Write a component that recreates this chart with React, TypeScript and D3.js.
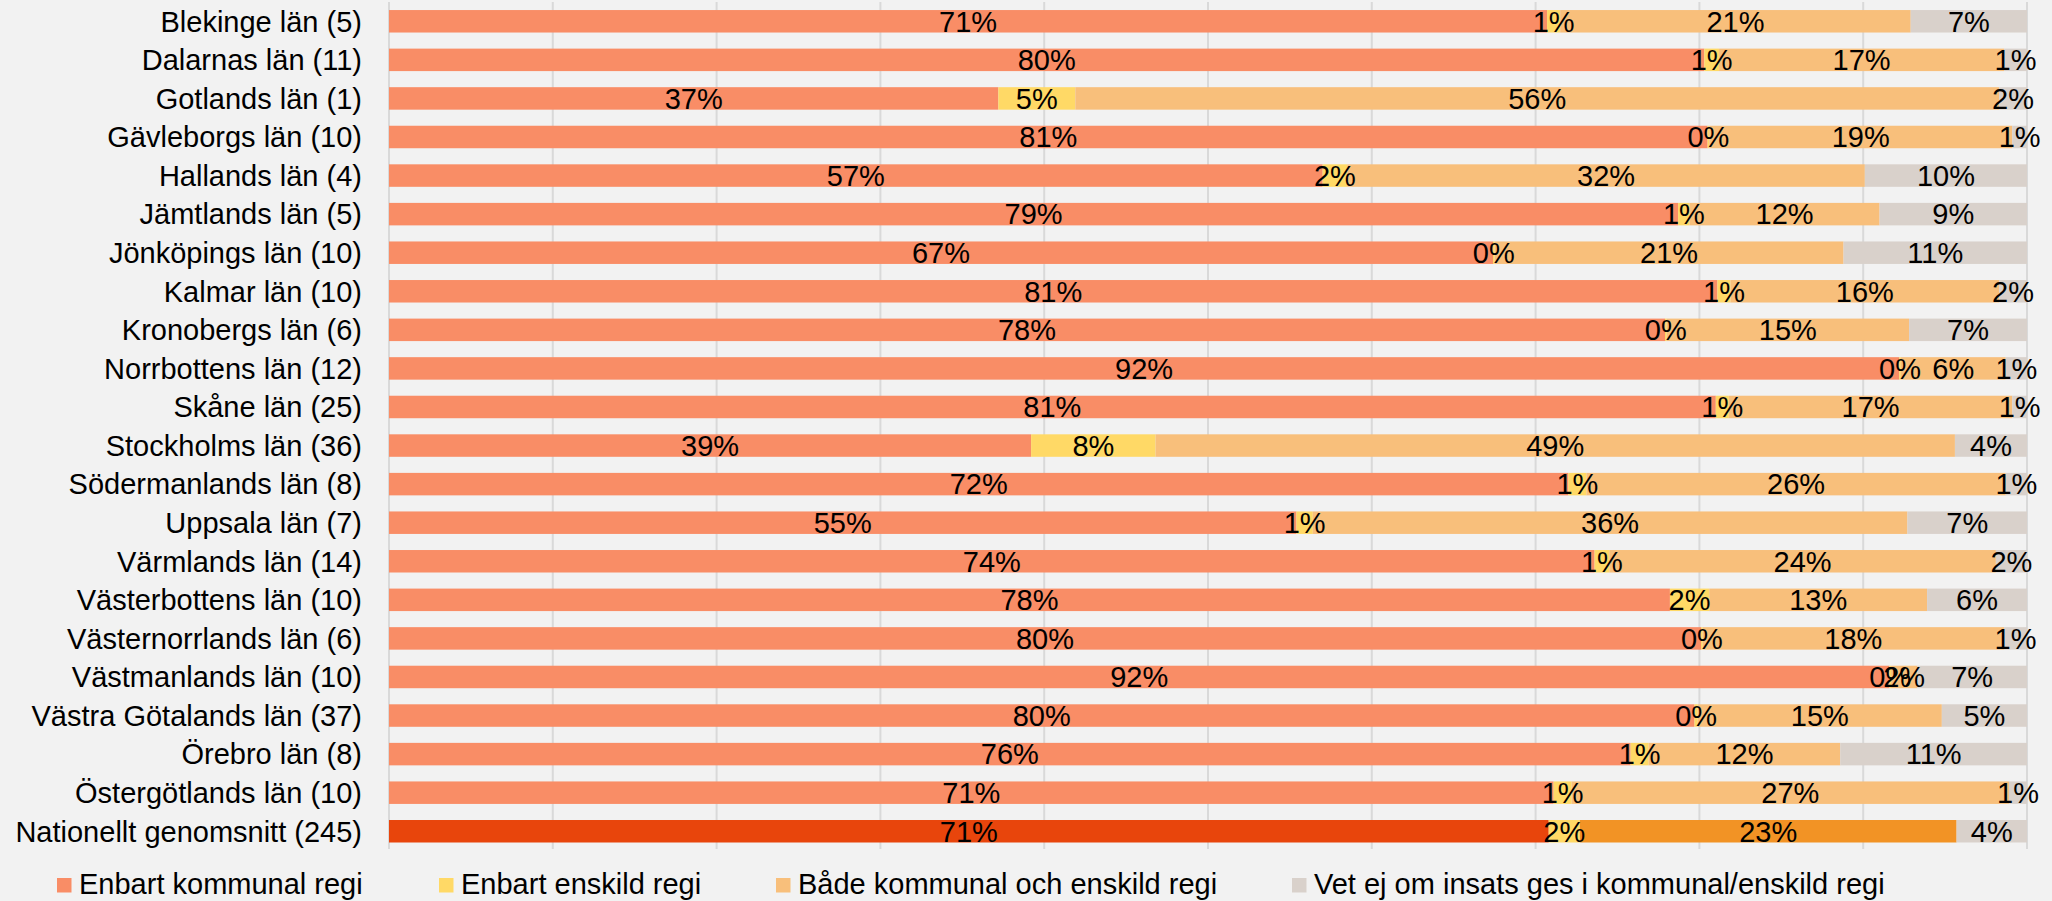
import React from "react";
import * as d3 from "d3";

const categories = [
  "Blekinge län (5)", "Dalarnas län (11)", "Gotlands län (1)", "Gävleborgs län (10)",
  "Hallands län (4)", "Jämtlands län (5)", "Jönköpings län (10)", "Kalmar län (10)",
  "Kronobergs län (6)", "Norrbottens län (12)", "Skåne län (25)", "Stockholms län (36)",
  "Södermanlands län (8)", "Uppsala län (7)", "Värmlands län (14)", "Västerbottens län (10)",
  "Västernorrlands län (6)", "Västmanlands län (10)", "Västra Götalands län (37)",
  "Örebro län (8)", "Östergötlands län (10)", "Nationellt genomsnitt (245)",
];

const enbartKommunal = [70.7, 80.3, 37.2, 80.5, 57.0, 78.7, 67.4, 81.1, 77.9, 92.2, 81.0, 39.2, 72.0, 55.4, 73.6, 78.2, 80.1, 91.6, 79.7, 75.8, 71.1, 70.8];
const enbartEnskild = [0.8, 0.9, 4.7, 0.1, 1.5, 0.7, 0.1, 0.8, 0.1, 0.1, 0.8, 7.6, 1.1, 1.0, 0.9, 2.4, 0.1, 0.1, 0.2, 1.1, 1.1, 1.9];
const badaRegi = [21.4, 17.4, 56.4, 18.5, 31.6, 11.6, 21.3, 16.4, 14.8, 6.4, 17.3, 48.8, 25.6, 36.3, 23.6, 13.3, 18.4, 1.6, 14.9, 11.7, 26.7, 23.0];
const vetEj = [7.1, 1.4, 1.7, 0.9, 9.9, 9.0, 11.2, 1.7, 7.2, 1.3, 0.9, 4.4, 1.3, 7.3, 1.9, 6.1, 1.4, 6.7, 5.2, 11.4, 1.1, 4.3];

const seriesKeys = ["kommunal", "enskild", "bada", "vetej"];
const seriesNames = [
  "Enbart kommunal regi",
  "Enbart enskild regi",
  "Både kommunal och enskild regi",
  "Vet ej om insats ges i kommunal/enskild regi",
];
const colors = ["#F98D66", "#FFD966", "#F8BF7B", "#D9D1CB"];
const nationalColors = ["#E8450C", "#FFD966", "#F29325", "#D9D1CB"];
const xTicks = d3.range(0, 1.0001, 0.1);

const W = 2052;
const H = 901;
const FONT = "'Liberation Sans', Arial, sans-serif";
const FS = 29;

export default function App() {
  const rows = categories.map((c, i) => ({
    cat: c,
    kommunal: enbartKommunal[i],
    enskild: enbartEnskild[i],
    bada: badaRegi[i],
    vetej: vetEj[i],
  }));
  const stacked = d3.stack<any>().keys(seriesKeys).offset(d3.stackOffsetExpand)(rows);

  const x = d3.scaleLinear().domain([0, 1]).range([389, 2027]);
  const y = d3
    .scaleBand<string>()
    .domain(categories)
    .range([2, 2 + 22 * 38.57])
    .paddingInner(0.417)
    .paddingOuter(0.2085);
  const bw = y.bandwidth();
  const last = categories.length - 1;

  const legendX = [57, 439, 776, 1292];

  return (
    <svg
      width={W}
      height={H}
      style={{ position: "absolute", left: 0, top: 0, display: "block" }}
      fontFamily={FONT}
    >
      <rect x={0} y={0} width={W} height={H} fill="#F2F2F2" />
      {xTicks.map((t, i) => (
        <line
          key={i}
          x1={x(t)}
          x2={x(t)}
          y1={2}
          y2={849}
          stroke="#D9D9D9"
          strokeWidth={2}
        />
      ))}
      {stacked.map((s, si) =>
        s.map((d, i) => (
          <rect
            key={si + "-" + i}
            x={x(d[0])}
            y={y(categories[i])}
            width={Math.max(0, x(d[1]) - x(d[0]))}
            height={bw}
            fill={i === last ? nationalColors[si] : colors[si]}
          />
        ))
      )}
      {stacked.map((s, si) =>
        s.map((d, i) => (
          <text
            key={"l" + si + "-" + i}
            x={(x(d[0]) + x(d[1])) / 2}
            y={(y(categories[i]) as number) + bw / 2 + 10.3}
            textAnchor="middle"
            fontSize={FS}
            fill="#000"
          >
            {Math.round((rows[i] as any)[seriesKeys[si]]) + "%"}
          </text>
        ))
      )}
      {categories.map((c) => (
        <text
          key={c}
          x={362}
          y={(y(c) as number) + bw / 2 + 10.3}
          textAnchor="end"
          fontSize={FS}
          fill="#000"
        >
          {c}
        </text>
      ))}
      {seriesNames.map((n, i) => (
        <g key={n}>
          <rect x={legendX[i]} y={878} width={14.5} height={14.5} fill={colors[i]} />
          <text x={legendX[i] + 22} y={894} fontSize={FS} fill="#000">
            {n}
          </text>
        </g>
      ))}
    </svg>
  );
}
